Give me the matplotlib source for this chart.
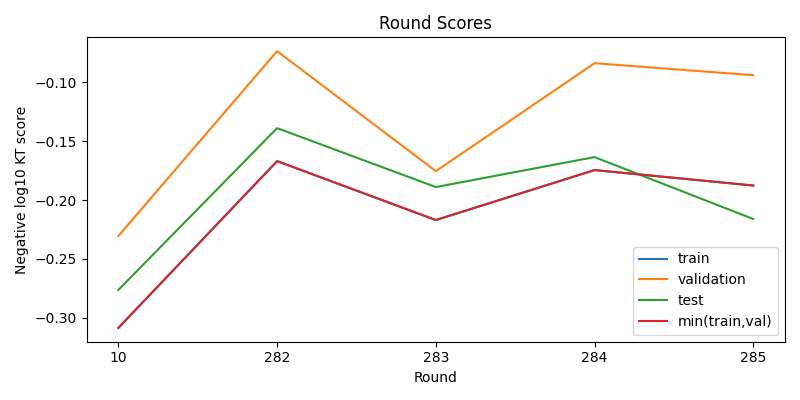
import matplotlib
matplotlib.use("Agg")
import matplotlib.pyplot as plt

rounds = ["10", "282", "283", "284", "285"]
train = [-0.3085, -0.1670, -0.2170, -0.1746, -0.1877]
validation = [-0.2305, -0.0737, -0.1755, -0.0839, -0.0941]
test = [-0.2763, -0.1390, -0.1890, -0.1636, -0.2161]
min_train_val = [min(t, v) for t, v in zip(train, validation)]

fig, ax = plt.subplots(figsize=(8, 4), dpi=100)
x = range(len(rounds))
ax.plot(x, train, label="train")
ax.plot(x, validation, label="validation")
ax.plot(x, test, label="test")
ax.plot(x, min_train_val, label="min(train,val)")

ax.set_xticks(list(x))
ax.set_xticklabels(rounds)
ax.set_xlabel("Round")
ax.set_ylabel("Negative log10 KT score")
ax.set_title("Round Scores")
ax.legend(loc="lower right")
plt.tight_layout()
plt.savefig("out.png")
